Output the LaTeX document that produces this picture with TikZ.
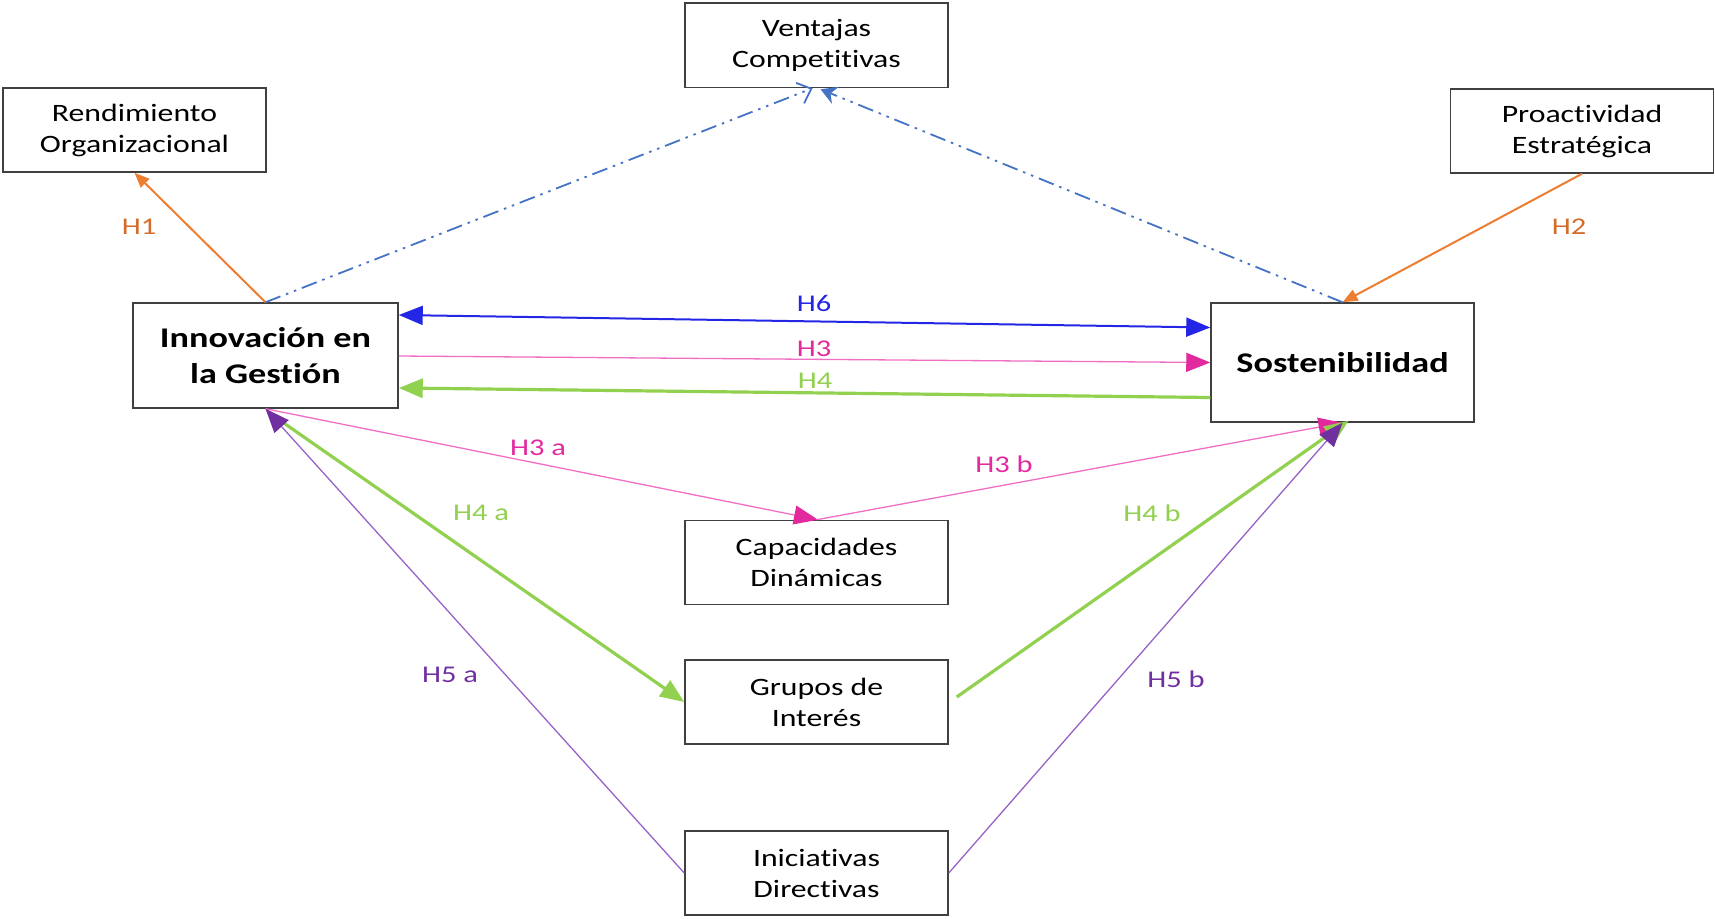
\documentclass[tikz,border=0pt]{standalone}
\usepackage{fontspec}
\setmainfont{Carlito}[FakeStretch=1.27,Ligatures=NoCommon]
\usetikzlibrary{arrows.meta,calc}
\definecolor{boxline}{RGB}{64,64,64}
\definecolor{orng}{RGB}{237,125,49}
\definecolor{orngtxt}{RGB}{212,108,44}
\definecolor{dblue}{RGB}{68,114,196}
\definecolor{hblue}{RGB}{36,38,230}
\definecolor{hpink}{RGB}{226,42,158}
\definecolor{hpinkl}{RGB}{240,110,195}
\definecolor{hgreen}{RGB}{146,208,80}
\definecolor{hpurp}{RGB}{112,48,160}
\definecolor{hpurpl}{RGB}{150,100,200}
\tikzset{
  bigtip/.tip={Triangle[length=24pt,width=19pt]},
  pinktip/.tip={Triangle[length=24pt,width=19pt,color=hpink]},
  purptip/.tip={Triangle[length=24pt,width=19pt,color=hpurp]},
  smalltip/.tip={Triangle[length=15pt,width=12pt]}
}
\begin{document}
\begin{tikzpicture}[x=1pt,y=-1pt,
  box/.style={draw=boxline,line width=1.5pt,minimum width=263pt,minimum height=84pt,inner sep=0pt,align=center,font=\fontsize{25}{31}\selectfont},
  bigbox/.style={box,minimum width=265pt,minimum height=105pt,font=\fontsize{28.5}{36}\selectfont\bfseries},
  lab/.style={inner sep=0pt,font=\fontsize{24}{28}\selectfont},
  ddd/.style={dash pattern=on 16pt off 6pt on 2.5pt off 6pt on 2.5pt off 6pt},
  thinline/.style={line width=1.3pt},
  thickline/.style={line width=3.2pt}
]
\useasboundingbox (0,0) rectangle (1715,918);

\node[box] (rend) at (134.5,130) {Rendimiento\\Organizacional};
\node[box,minimum height=84.5pt] (vent) at (816.5,45.25) {Ventajas\\Competitivas};
\node[box] (proac) at (1582,131) {Proactividad\\Estratégica};
\node[bigbox] (innov) at (265.5,355.5) {Innovación en\\la Gestión};
\node[bigbox,minimum width=263pt,minimum height=119pt] (sost) at (1342.5,362.5) {Sostenibilidad};
\node[box] (capac) at (816.5,562.5) {Capacidades\\Dinámicas};
\node[box] (grupos) at (816.5,702) {Grupos de\\Interés};
\node[box] (inic) at (816.5,873) {Iniciativas\\Directivas};

% H1, H2
\draw[orng,line width=2pt,-smalltip] (innov.north) -- (rend.south);
\draw[orng,line width=2pt,-smalltip] (proac.south) -- (sost.north);

% dash-dot-dot to Ventajas
\draw[dblue,line width=1.8pt,ddd,-{Straight Barb[length=12pt,width=22pt,line width=1.8pt]}] (innov.north) -- ($(vent.south)+(-4,0)$);
\draw[dblue,line width=1.8pt,ddd,-{Stealth[length=16pt,width=18pt]}] (sost.north) -- ($(vent.south)+(4,1)$);

% H6, H3, H4
\draw[hblue,line width=2pt,bigtip-bigtip] ($(innov.east)+(0,-40.5)$) -- ($(sost.west)+(0,-35)$);
\draw[hpinkl,thinline,-pinktip] ($(innov.east)+(0,0.5)$) -- (sost.west);
\draw[hgreen,thickline,-bigtip] ($(sost.west)+(0,35)$) -- ($(innov.east)+(0,32.5)$);

% H3a, H3b
\draw[hpinkl,thinline,-pinktip] (innov.south) -- ($(capac.north)+(1.5,0)$);
\draw[hpinkl,thinline,-pinktip] (capac.north) -- (sost.south);

% H4a, H4b
\draw[hgreen,thickline,-bigtip] ($(innov.south)+(5,5)$) -- (grupos.west);
\draw[hgreen,thickline,-bigtip] ($(grupos.east)+(8,-5)$) -- ($(sost.south)+(6,-2)$);

% H5a, H5b
\draw[hpurpl,thinline,-purptip] (inic.west) -- (innov.south);
\draw[hpurpl,thinline,-purptip] (inic.east) -- (sost.south);

% labels
\node[lab,text=orngtxt] (lH1) at (139,227) {H1};
\node[lab,text=orngtxt] (lH2) at (1569,227) {H2};
\node[lab,text=hblue] (lH6) at (814,303) {H6};
\node[lab,text=hpink] (lH3) at (814,349) {H3};
\node[lab,text=hgreen] (lH4) at (815,381) {H4};
\node[lab,text=hpink] (lH3a) at (538,448) {H3 a};
\node[lab,text=hpink] (lH3b) at (1004,464) {H3 b};
\node[lab,text=hgreen] (lH4a) at (481,513) {H4 a};
\node[lab,text=hgreen] (lH4b) at (1152,513) {H4 b};
\node[lab,text=hpurp] (lH5a) at (450,675) {H5 a};
\node[lab,text=hpurp] (lH5b) at (1176,679) {H5 b};
\end{tikzpicture}
\end{document}
